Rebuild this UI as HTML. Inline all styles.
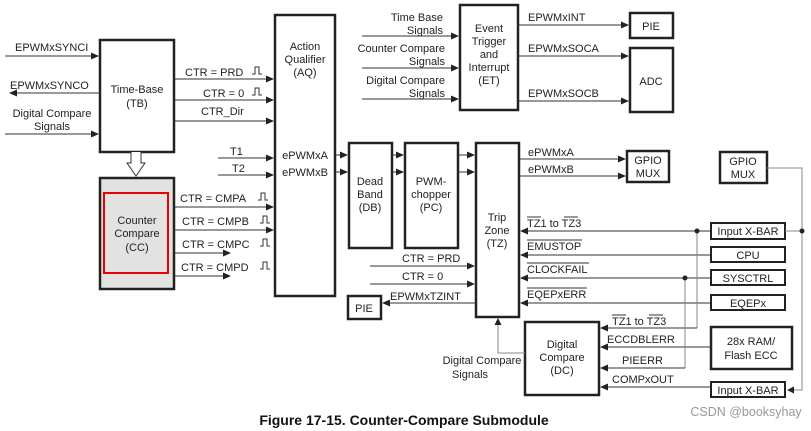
<!DOCTYPE html>
<html><head><meta charset="utf-8"><style>
body{margin:0;background:#fff}
svg{display:block;font-family:"Liberation Sans",Arial,sans-serif;font-size:11px;fill:#222}
.b{fill:#fff;stroke:#222;stroke-width:2.5}
.l{stroke:#333;stroke-width:1;fill:none}
.g{stroke:#888;stroke-width:1;fill:none}
</style></head><body>
<svg width="811" height="431" viewBox="0 0 811 431">
<defs>
<marker id="a" markerWidth="8" markerHeight="8" refX="7" refY="4" orient="auto" markerUnits="userSpaceOnUse"><path d="M0,0.5 L8,4 L0,7.5z" fill="#222"/></marker>
</defs>
<!-- TB -->
<rect class="b" x="100" y="40" width="74" height="112"/>
<text x="137" y="93" text-anchor="middle">Time-Base</text><text x="137" y="107" text-anchor="middle">(TB)</text>
<line class="l" x1="5" y1="56" x2="98" y2="56" marker-end="url(#a)"/><text x="15" y="51">EPWMxSYNCI</text>
<line class="l" x1="100" y1="93" x2="10" y2="93" marker-end="url(#a)"/><text x="10" y="89">EPWMxSYNCO</text>
<text x="52" y="117" text-anchor="middle">Digital Compare</text><text x="52" y="130" text-anchor="middle">Signals</text>
<line class="l" x1="5" y1="134" x2="98" y2="134" marker-end="url(#a)"/>
<path d="M131,152 V163 H127 L136,176 L145,163 H141 V152" fill="#fff" stroke="#333"/>
<!-- CC -->
<rect class="b" x="100" y="178" width="74" height="111" style="fill:#e2e2e2"/>
<rect x="104" y="193" width="64" height="80" fill="none" stroke="#e00" stroke-width="2"/>
<text x="137" y="224" text-anchor="middle">Counter</text><text x="137" y="237" text-anchor="middle">Compare</text><text x="137" y="251" text-anchor="middle">(CC)</text>
<!-- TB->AQ -->
<line class="l" x1="174" y1="79" x2="273" y2="79" marker-end="url(#a)"/><text x="185" y="76">CTR = PRD</text>
<line class="l" x1="174" y1="100" x2="273" y2="100" marker-end="url(#a)"/><text x="203" y="97">CTR = 0</text>
<line class="l" x1="174" y1="121" x2="273" y2="121" marker-end="url(#a)"/><text x="201" y="115">CTR_Dir</text>
<path class="l" d="M252,74 h3 v-7 h4 v7 h3 M252,95 h3 v-7 h4 v7 h3"/>
<line class="l" x1="218" y1="158" x2="273" y2="158" marker-end="url(#a)"/><text x="230" y="155">T1</text>
<line class="l" x1="218" y1="175" x2="273" y2="175" marker-end="url(#a)"/><text x="232" y="172">T2</text>
<line class="l" x1="174" y1="207" x2="273" y2="207" marker-end="url(#a)"/><text x="180" y="202">CTR = CMPA</text>
<line class="l" x1="174" y1="230" x2="273" y2="230" marker-end="url(#a)"/><text x="182" y="225">CTR = CMPB</text>
<line class="l" x1="174" y1="253" x2="230" y2="253" marker-end="url(#a)"/><text x="182" y="248">CTR = CMPC</text>
<line class="l" x1="174" y1="276" x2="230" y2="276" marker-end="url(#a)"/><text x="181" y="271">CTR = CMPD</text>
<path class="l" d="M258,200 h3 v-7 h4 v7 h3 M260,223 h3 v-7 h4 v7 h3 M260,246 h3 v-7 h4 v7 h3 M260,269 h3 v-7 h4 v7 h3"/>
<!-- AQ -->
<rect class="b" x="275" y="15" width="60" height="281"/>
<text x="305" y="50" text-anchor="middle">Action</text><text x="305" y="63" text-anchor="middle">Qualifier</text><text x="305" y="76" text-anchor="middle">(AQ)</text>
<text x="305" y="159" text-anchor="middle">ePWMxA</text><text x="305" y="176" text-anchor="middle">ePWMxB</text>
<line class="l" x1="335" y1="155" x2="347" y2="155" marker-end="url(#a)"/>
<line class="l" x1="335" y1="172" x2="347" y2="172" marker-end="url(#a)"/>
<!-- DB -->
<rect class="b" x="349" y="143" width="43" height="105"/>
<text x="370" y="185" text-anchor="middle">Dead</text><text x="370" y="198" text-anchor="middle">Band</text><text x="370" y="211" text-anchor="middle">(DB)</text>
<line class="l" x1="392" y1="155" x2="403" y2="155" marker-end="url(#a)"/>
<line class="l" x1="392" y1="172" x2="403" y2="172" marker-end="url(#a)"/>
<!-- PC -->
<rect class="b" x="405" y="143" width="53" height="105"/>
<text x="431" y="185" text-anchor="middle">PWM-</text><text x="431" y="198" text-anchor="middle">chopper</text><text x="431" y="211" text-anchor="middle">(PC)</text>
<line class="l" x1="458" y1="155" x2="474" y2="155" marker-end="url(#a)"/>
<line class="l" x1="458" y1="172" x2="474" y2="172" marker-end="url(#a)"/>
<!-- TZ -->
<rect class="b" x="476" y="143" width="43" height="174"/>
<text x="497" y="221" text-anchor="middle">Trip</text><text x="497" y="234" text-anchor="middle">Zone</text><text x="497" y="247" text-anchor="middle">(TZ)</text>
<line class="l" x1="519" y1="159" x2="625" y2="159" marker-end="url(#a)"/><text x="528" y="156">ePWMxA</text>
<line class="l" x1="519" y1="176" x2="625" y2="176" marker-end="url(#a)"/><text x="528" y="173">ePWMxB</text>
<rect class="b" x="627" y="151" width="42" height="31"/>
<text x="648" y="164" text-anchor="middle">GPIO</text><text x="648" y="177" text-anchor="middle">MUX</text>
<rect class="b" x="720" y="152" width="47" height="31"/>
<text x="743" y="165" text-anchor="middle">GPIO</text><text x="743" y="178" text-anchor="middle">MUX</text>
<line class="l" x1="370" y1="266" x2="474" y2="266" marker-end="url(#a)"/><text x="402" y="262">CTR = PRD</text>
<line class="l" x1="370" y1="284" x2="474" y2="284" marker-end="url(#a)"/><text x="402" y="280">CTR = 0</text>
<rect class="b" x="348" y="296" width="33" height="23"/><text x="364" y="312" text-anchor="middle">PIE</text>
<line class="l" x1="476" y1="303" x2="383" y2="303" marker-end="url(#a)"/><text x="390" y="300">EPWMxTZINT</text>
<!-- right sources -->
<line class="l" x1="711" y1="231" x2="521" y2="231" marker-end="url(#a)"/>
<line class="l" x1="711" y1="255" x2="521" y2="255" marker-end="url(#a)"/>
<line class="l" x1="711" y1="278" x2="521" y2="278" marker-end="url(#a)"/>
<line class="l" x1="711" y1="303" x2="521" y2="303" marker-end="url(#a)"/>
<text x="527" y="227">TZ1 to TZ3</text><path class="l" d="M527,217 h14 M564,217 h14"/>
<text x="527" y="250">EMUSTOP</text><path class="l" d="M527,240 h55"/>
<text x="527" y="273">CLOCKFAIL</text><path class="l" d="M527,263 h62"/>
<text x="527" y="298">EQEPxERR</text><path class="l" d="M527,288 h60"/>
<rect class="b" x="711" y="223" width="74" height="16" style="stroke-width:2"/><text x="748" y="235" text-anchor="middle">Input X-BAR</text>
<rect class="b" x="711" y="247" width="74" height="15" style="stroke-width:2"/><text x="748" y="259" text-anchor="middle">CPU</text>
<rect class="b" x="711" y="270" width="74" height="15" style="stroke-width:2"/><text x="748" y="282" text-anchor="middle">SYSCTRL</text>
<rect class="b" x="711" y="295" width="74" height="15" style="stroke-width:2"/><text x="748" y="307" text-anchor="middle">EQEPx</text>
<rect class="b" x="711" y="327" width="81" height="42"/><text x="751" y="345" text-anchor="middle">28x RAM/</text><text x="751" y="359" text-anchor="middle">Flash ECC</text>
<rect class="b" x="711" y="382" width="74" height="15" style="stroke-width:2"/><text x="748" y="394" text-anchor="middle">Input X-BAR</text>
<!-- DC -->
<rect class="b" x="525" y="322" width="74" height="73"/>
<text x="562" y="348" text-anchor="middle">Digital</text><text x="562" y="361" text-anchor="middle">Compare</text><text x="562" y="374" text-anchor="middle">(DC)</text>
<path class="g" d="M697,231 V328"/><line class="l" x1="697" y1="328" x2="601" y2="328" marker-end="url(#a)"/>
<line class="l" x1="711" y1="347" x2="601" y2="347" marker-end="url(#a)"/>
<path class="g" d="M685,278 V368"/><line class="l" x1="685" y1="368" x2="601" y2="368" marker-end="url(#a)"/>
<line class="l" x1="711" y1="387" x2="601" y2="387" marker-end="url(#a)"/>
<text x="612" y="325">TZ1 to TZ3</text><path class="l" d="M612,315 h14 M649,315 h14"/>
<text x="607" y="343">ECCDBLERR</text>
<text x="622" y="364">PIEERR</text>
<text x="612" y="383">COMPxOUT</text>
<circle cx="697" cy="231" r="2.5" fill="#222"/><circle cx="685" cy="278" r="2.5" fill="#222"/>
<path class="g" d="M767,168 H802 V390 H790"/><path d="M787,390 l7,-3.5 v7z" fill="#222"/>
<path class="g" d="M785,231 H802"/><circle cx="802" cy="231" r="2.5" fill="#222"/>
<path class="g" d="M525,353 H498 V322"/><path d="M498,318 l-3.5,7 h7z" fill="#222"/>
<text x="482" y="364" text-anchor="middle">Digital Compare</text><text x="470" y="378" text-anchor="middle">Signals</text>
<!-- ET -->
<rect class="b" x="460" y="5" width="58" height="105"/>
<text x="489" y="32" text-anchor="middle">Event</text><text x="489" y="45" text-anchor="middle">Trigger</text><text x="489" y="58" text-anchor="middle">and</text><text x="489" y="71" text-anchor="middle">Interrupt</text><text x="489" y="84" text-anchor="middle">(ET)</text>
<line class="l" x1="362" y1="36" x2="458" y2="36" marker-end="url(#a)"/>
<line class="l" x1="362" y1="68" x2="458" y2="68" marker-end="url(#a)"/>
<line class="l" x1="362" y1="99" x2="458" y2="99" marker-end="url(#a)"/>
<g text-anchor="end"><text x="443" y="21">Time Base</text><text x="443" y="34">Signals</text><text x="445" y="52">Counter Compare</text><text x="445" y="65">Signals</text><text x="445" y="84">Digital Compare</text><text x="445" y="97">Signals</text></g>
<line class="l" x1="518" y1="25" x2="628" y2="25" marker-end="url(#a)"/><text x="528" y="21">EPWMxINT</text>
<line class="l" x1="518" y1="56" x2="628" y2="56" marker-end="url(#a)"/><text x="528" y="52">EPWMxSOCA</text>
<line class="l" x1="518" y1="101" x2="628" y2="101" marker-end="url(#a)"/><text x="528" y="97">EPWMxSOCB</text>
<rect class="b" x="630" y="13" width="43" height="25"/><text x="651" y="30" text-anchor="middle">PIE</text>
<rect class="b" x="630" y="48" width="43" height="64"/><text x="651" y="85" text-anchor="middle">ADC</text>
<text x="404" y="425" text-anchor="middle" style="font-weight:bold;font-size:14px;fill:#111">Figure 17-15. Counter-Compare Submodule</text>
<text x="746" y="416" text-anchor="middle" style="font-size:12.5px;fill:#999">CSDN @booksyhay</text>
</svg>
</body></html>
